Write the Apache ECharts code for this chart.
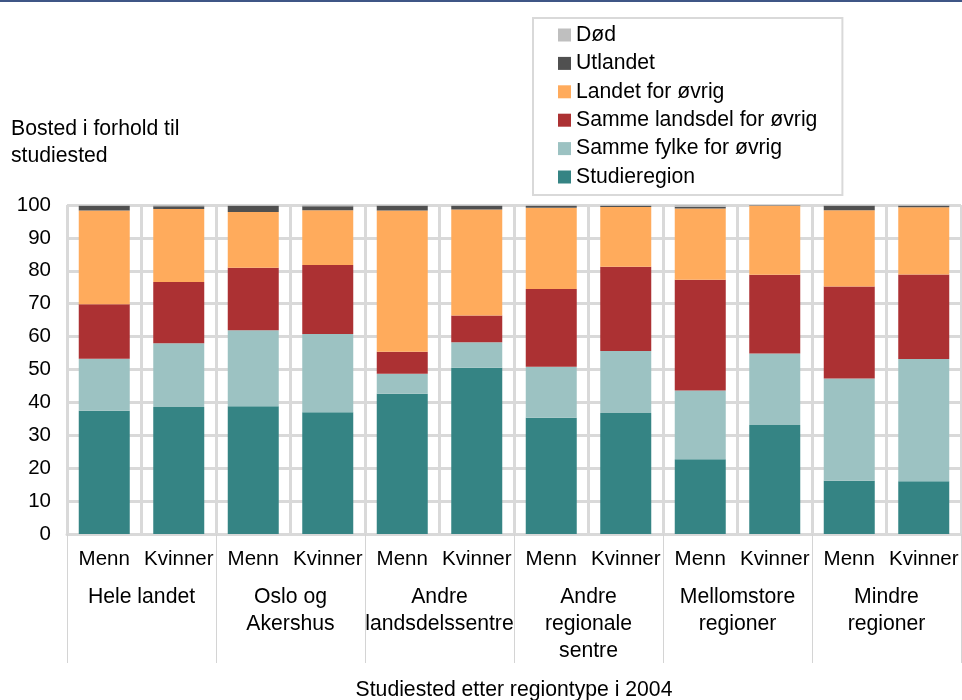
<!DOCTYPE html>
<html>
<head>
    <meta charset="utf-8">
    <title>Bosted i forhold til studiested</title>
    <script src="https://cdn.jsdelivr.net/npm/echarts@6/dist/echarts.min.js"></script>
    <style>
        html, body { margin: 0; padding: 0; background: #fff; }
        #chart1 { width: 962px; height: 700px; }
    </style>
</head>
<body>
<div id="chart1"></div>
<script>
    // kategorier (kjønn) og grupper (regiontype)
    var kjonn = ['Menn', 'Kvinner', 'Menn', 'Kvinner', 'Menn', 'Kvinner', 'Menn', 'Kvinner', 'Menn', 'Kvinner', 'Menn', 'Kvinner'];
    var grupper = ['Hele landet', 'Oslo og\nAkershus', 'Andre\nlandsdelssentre', 'Andre\nregionale\nsentre', 'Mellomstore\nregioner', 'Mindre\nregioner'];
    var yTicks = [0, 10, 20, 30, 40, 50, 60, 70, 80, 90, 100];

    // prosent per søyle, nederst og opp
    var studieregion = [37.5, 38.6, 38.8, 37.0, 42.6, 50.5, 35.3, 36.8, 22.7, 33.1, 16.2, 16.0];
    var sammeFylke = [15.8, 19.4, 23.1, 23.8, 6.1, 7.8, 15.5, 18.8, 20.9, 21.8, 31.1, 37.2];
    var sammeLandsdel = [16.5, 18.6, 19.0, 21.0, 6.7, 8.1, 23.7, 25.6, 33.7, 23.9, 27.9, 25.7];
    var landetOvrig = [28.5, 22.2, 17.0, 16.6, 42.9, 32.2, 24.7, 18.2, 21.6, 21.0, 23.2, 20.4];
    var utlandet = [1.4, 0.8, 1.8, 1.2, 1.5, 1.1, 0.5, 0.3, 0.6, 0.1, 1.4, 0.5];
    var dod = [0.3, 0.4, 0.3, 0.4, 0.2, 0.3, 0.3, 0.3, 0.5, 0.1, 0.2, 0.2];

    var font = 'Liberation Sans, Arial, sans-serif';
    var fs = 20.5;   // aksetall og Menn/Kvinner
    var fsTekst = 21.2; // legend, titler, grupper
    var grid = '#d9d9d9';

    var myChart = echarts.init(document.getElementById('chart1'));

    function serie(navn, data, farge) {
        return {
            name: navn,
            type: 'bar',
            stack: 'total',
            barWidth: 51,
            data: data,
            itemStyle: { color: farge }
        };
    }

    var option = {
        animation: false,
        backgroundColor: '#fff',
        textStyle: { fontFamily: font },
        grid: { left: 67, right: 1, top: 205, bottom: 166, outerBoundsMode: 'none' },
        legend: {
            orient: 'vertical',
            left: 533,
            top: 18,
            padding: [6, 25, 7, 25],
            itemGap: 6.4,
            itemWidth: 13,
            itemHeight: 13,
            itemTextGap: 6,
            icon: 'rect',
            borderColor: grid,
            borderWidth: 2,
            textStyle: { fontFamily: font, fontSize: fsTekst, color: '#000', lineHeight: 22 },
            data: ['Død', 'Utlandet', 'Landet for øvrig', 'Samme landsdel for øvrig', 'Samme fylke for øvrig', 'Studieregion']
        },
        xAxis: [{
            type: 'category',
            data: kjonn,
            axisLine: { show: true, lineStyle: { color: grid, width: 3 } },
            axisTick: { show: false },
            splitLine: { show: true, interval: 0, lineStyle: { color: grid, width: 3 } },
            axisLabel: { interval: 0, margin: 15, fontFamily: font, fontSize: fs, color: '#000' }
        }, {
            type: 'category',
            data: grupper,
            position: 'bottom',
            axisLine: { show: false },
            axisTick: { show: true, length: 129, lineStyle: { color: '#d4d4d4', width: 1 } },
            splitLine: { show: false },
            axisLabel: { interval: 0, margin: 50, fontFamily: font, fontSize: fsTekst, color: '#000', lineHeight: 27 }
        }],
        yAxis: {
            type: 'value',
            min: yTicks[0],
            max: yTicks[yTicks.length - 1],
            interval: 10,
            axisLine: { show: false },
            axisTick: { show: false },
            splitLine: { show: true, lineStyle: { color: grid, width: 3 } },
            axisLabel: { margin: 16, fontFamily: font, fontSize: fs, color: '#000' }
        },
        graphic: [{
            type: 'rect',
            shape: { x: 0, y: 0, width: 962, height: 2 },
            style: { fill: '#3f5686' }
        }, {
            type: 'text',
            left: 11,
            top: 116,
            style: { text: 'Bosted i forhold til\nstudiested', font: fsTekst + 'px ' + font, fill: '#000', lineHeight: 27 }
        }, {
            type: 'text',
            x: 514,
            y: 690,
            style: { text: 'Studiested etter regiontype i 2004', font: fsTekst + 'px ' + font, fill: '#000', align: 'center', verticalAlign: 'middle' }
        }],
        series: [
            serie('Studieregion', studieregion, '#358484'),
            serie('Samme fylke for øvrig', sammeFylke, '#9cc2c2'),
            serie('Samme landsdel for øvrig', sammeLandsdel, '#ac3133'),
            serie('Landet for øvrig', landetOvrig, '#ffab5c'),
            serie('Utlandet', utlandet, '#505050'),
            serie('Død', dod, '#bfbfbf')
        ]
    };

    myChart.setOption(option);
</script>
</body>
</html>
